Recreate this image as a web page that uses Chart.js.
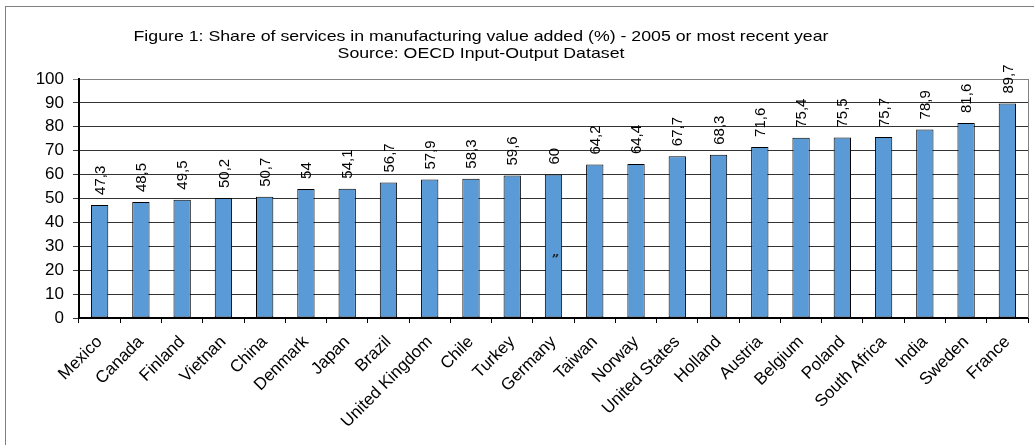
<!DOCTYPE html>
<html>
<head>
<meta charset="utf-8">
<script src="https://cdn.jsdelivr.net/npm/chart.js@4/dist/chart.umd.min.js"></script>
<style>
  html, body { margin: 0; padding: 0; background: #fff; }
  #wrap { position: relative; width: 1034px; height: 445px; }
</style>
</head>
<body>
<div id="wrap"><canvas id="services_chart" width="1034" height="445"></canvas></div>
<script>
const countries = ['Mexico', 'Canada', 'Finland', 'Vietnan', 'China', 'Denmark', 'Japan', 'Brazil',
  'United Kingdom', 'Chile', 'Turkey', 'Germany', 'Taiwan', 'Norway', 'United States', 'Holland',
  'Austria', 'Belgium', 'Poland', 'South Africa', 'India', 'Sweden', 'France'];
const shares = [47.3, 48.5, 49.5, 50.2, 50.7, 54, 54.1, 56.7, 57.9, 58.3, 59.6, 60, 64.2, 64.4,
  67.7, 68.3, 71.6, 75.4, 75.5, 75.7, 78.9, 81.6, 89.7];
const titleLines = [
  'Figure 1: Share of services in manufacturing value added (%) - 2005 or most recent year',
  'Source: OECD Input-Output Dataset'
];
const yTicks = [0, 10, 20, 30, 40, 50, 60, 70, 80, 90, 100];

const FONT = 'Arial, "Liberation Sans", sans-serif';

// frame + title + right border of the plot
const decorPlugin = {
  id: 'decor',
  beforeDraw(chart) {
    const ctx = chart.ctx;
    ctx.save();
    ctx.strokeStyle = '#7f7f7f';
    ctx.lineWidth = 1;
    ctx.strokeRect(5.5, 6.5, 1100, 600);
    ctx.restore();
  },
  afterDraw(chart) {
    const ctx = chart.ctx;
    const a = chart.chartArea;
    ctx.save();
    ctx.strokeStyle = '#808080';
    ctx.lineWidth = 1;
    ctx.beginPath();
    ctx.moveTo(Math.round(a.right) + 0.5, a.top);
    ctx.lineTo(Math.round(a.right) + 0.5, a.bottom);
    ctx.stroke();

    // title: the original is a bit wider than plain Arial, stretch it sideways
    ctx.fillStyle = '#000';
    ctx.font = '15px ' + FONT;
    ctx.textAlign = 'center';
    ctx.textBaseline = 'middle';
    const sx = 695 / ctx.measureText(titleLines[0]).width;
    ctx.translate(481, 0);
    ctx.scale(sx, 1);
    ctx.fillText(titleLines[0], 0, 37);
    ctx.fillText(titleLines[1], 0, 54);
    ctx.restore();
  }
};

// rotated value labels above each bar, comma decimals
const valueLabels = {
  id: 'valueLabels',
  afterDatasetsDraw(chart) {
    const ctx = chart.ctx;
    const meta = chart.getDatasetMeta(0);
    ctx.save();
    ctx.fillStyle = '#000';
    ctx.font = '15px ' + FONT;
    ctx.textAlign = 'left';
    ctx.textBaseline = 'middle';
    meta.data.forEach((bar, i) => {
      const txt = String(shares[i]).replace('.', ',');
      ctx.save();
      ctx.translate(bar.x + 1, bar.y - 10);
      ctx.rotate(-Math.PI / 2);
      ctx.fillText(txt, 0, 0);
      ctx.restore();
    });
    // little stray mark on the Germany bar
    const g = countries.indexOf('Germany');
    const xs = chart.scales.x, ys = chart.scales.y;
    ctx.fillStyle = '#1a1a1a';
    ctx.font = 'bold 13px "DejaVu Serif", serif';
    ctx.textAlign = 'center';
    ctx.fillText('\u201D', xs.getPixelForValue(g) + 2, ys.getPixelForValue(24));
    ctx.restore();
  }
};

const ctx = document.getElementById('services_chart').getContext('2d');
const servicesChart = new Chart(ctx, {
  type: 'bar',
  data: {
    labels: countries,
    datasets: [{
      label: 'Share of services',
      data: shares,
      backgroundColor: '#5a9ad6',
      borderColor: '#000',
      borderWidth: 1,
      borderSkipped: false,
      categoryPercentage: 1,
      barPercentage: 0.42
    }]
  },
  options: {
    responsive: false,
    animation: false,
    layout: { padding: { top: 79, right: 6, left: 0, bottom: 0 } },
    plugins: {
      legend: { display: false },
      tooltip: { enabled: false }
    },
    scales: {
      x: {
        grid: { drawOnChartArea: false, drawTicks: true, tickLength: 5, color: '#000', offset: true },
        border: { display: true, color: '#000', width: 2 },
        ticks: {
          color: '#000',
          font: { family: FONT, size: 17 },
          minRotation: 45,
          maxRotation: 45,
          autoSkip: false,
          padding: 9
        },
        afterFit(scale) { scale.height = 127; }
      },
      y: {
        min: 0,
        max: 100,
        afterBuildTicks(scale) { scale.ticks = yTicks.map(v => ({ value: v })); },
        grid: {
          color: c => (c.tick && c.tick.value === 100 ? '#808080' : '#333'),
          lineWidth: 1,
          drawTicks: true,
          tickLength: 6
        },
        border: { display: true, color: '#000', width: 2 },
        ticks: {
          color: '#000',
          font: { family: FONT, size: 17 },
          padding: 9
        },
        afterFit(scale) { scale.width = 79; }
      }
    }
  },
  plugins: [decorPlugin, valueLabels]
});
</script>
</body>
</html>
